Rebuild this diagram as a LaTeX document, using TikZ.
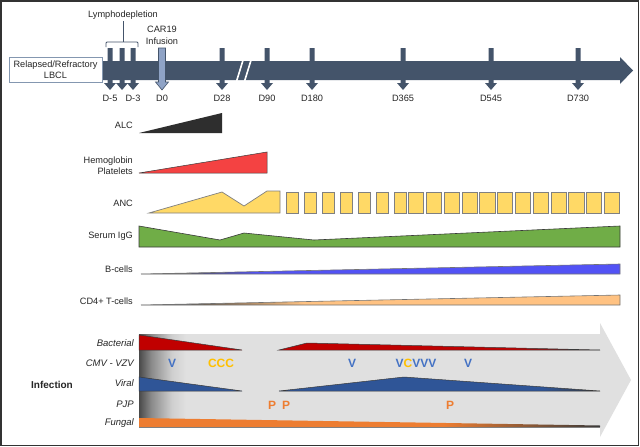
\documentclass[tikz,border=0pt]{standalone}
\usepackage{fontspec}
\setmainfont{Liberation Sans}
\definecolor{tl}{HTML}{44546A}
\definecolor{tlL}{HTML}{8FA3C6}
\definecolor{boxe}{HTML}{8497B0}
\definecolor{alc}{HTML}{2E2E2E}
\definecolor{hgb}{HTML}{F44242}
\definecolor{anc}{HTML}{FFD966}
\definecolor{igg}{HTML}{70AD47}
\definecolor{bcl}{HTML}{5252F5}
\definecolor{cdf}{HTML}{FFC282}
\definecolor{arr}{HTML}{E0E0E0}
\definecolor{bac}{HTML}{C00000}
\definecolor{vir}{HTML}{2F5597}
\definecolor{fun}{HTML}{ED7D31}
\definecolor{vl}{HTML}{4472C4}
\definecolor{cl}{HTML}{FFC000}
\definecolor{dk}{HTML}{3A3A3A}
\definecolor{g1}{HTML}{4A4A4A}
\definecolor{g2}{HTML}{8A8A8A}
\definecolor{g3}{HTML}{CFCFCF}
\pgfdeclarehorizontalshading{bcshade}{100bp}{color(0bp)=(dk); color(28bp)=(dk); color(37bp)=(bcl); color(100bp)=(bcl)}
\pgfdeclarehorizontalshading{cdshade}{100bp}{color(0bp)=(dk); color(28bp)=(dk); color(42bp)=(cdf); color(100bp)=(cdf)}
\pgfdeclarehorizontalshading{bacshade}{100bp}{color(0bp)=(bac); color(62bp)=(bac); color(75bp)=(dk); color(100bp)=(dk)}
\pgfdeclarehorizontalshading{virshade}{100bp}{color(0bp)=(vir); color(66bp)=(vir); color(75bp)=(dk); color(100bp)=(dk)}
\pgfdeclarehorizontalshading{funshade}{100bp}{color(0bp)=(fun); color(58bp)=(fun); color(75bp)=(dk); color(100bp)=(dk)}
\pgfdeclarehorizontalshading{leftshade}{100bp}{color(0bp)=(g1); color(25bp)=(g1); color(38bp)=(g2); color(60bp)=(g3); color(75bp)=(arr); color(100bp)=(arr)}
\newcommand\dayarrow[1]{\fill[tl] (#1-2.5,48) -- (#1+2.5,48) -- (#1+2.5,83) -- (#1+6,83) -- (#1,90) -- (#1-6,83) -- (#1-2.5,83) -- cycle;}
\begin{document}
\begin{tikzpicture}[x=1pt,y=-1pt,
  lbl/.style={font=\fontsize{9.2}{11}\selectfont, text=black!85, inner sep=0pt},
  rowlbl/.style={lbl, anchor=east},
  inflbl/.style={font=\fontsize{9.5}{11}\selectfont\itshape, text=black!85, inner sep=0pt, anchor=east},
  daylbl/.style={lbl},
  edge/.style={draw=dk, line width=0.5pt},
  ancbox/.style={fill=anc, draw=black!50, line width=0.7pt},
  vlet/.style={font=\fontsize{12}{12}\selectfont\bfseries, text=vl, inner sep=0pt},
  clet/.style={font=\fontsize{12}{12}\selectfont\bfseries, text=cl, inner sep=0pt},
  plet/.style={font=\fontsize{12}{12}\selectfont\bfseries, text=fun, inner sep=0pt}]
\useasboundingbox (0,0) rectangle (640,447);
\fill[white] (0,0) rectangle (640,447);
\draw[line width=1.5pt, black!80] (0.75,0.75) rectangle (638.5,445.5);

% timeline
\fill[tl] (102,61) -- (620,61) -- (620,57) -- (633,70.5) -- (620,84) -- (620,80) -- (102,80) -- cycle;
\node[draw=boxe, fill=white, line width=0.6pt, minimum width=93pt, minimum height=25pt, inner sep=0pt, align=center,
  font=\fontsize{9.2}{10.5}\selectfont, text=black!85] (rr) at (55.5,69.5) {Relapsed/Refractory\\LBCL};
\foreach \xx in {110,122,133,222,267,312,403,491,578} {\dayarrow{\xx}}
\draw[tl, fill=tlL, line width=0.6pt] (158.5,48) -- (165.5,48) -- (165.5,82) -- (168.5,82) -- (162,90) -- (155.5,82) -- (158.5,82) -- cycle;
\draw[white, line width=1.6pt] (236,83) -- (244,57);
\draw[white, line width=1.6pt] (244,83) -- (252,57);

\node[lbl] (lymph) at (123,15) {Lymphodepletion};
\coordinate (brk) at (123,42);
\draw[tl, line width=0.8pt, rounded corners=1pt] (106,47) -- (106,42) -- (138,42) -- (138,47);
\draw[tl, line width=0.8pt] (lymph.south |- 0,21) -- (brk);
\node[lbl, align=center, font=\fontsize{9.2}{12}\selectfont] (car) at (162,35) {CAR19\\Infusion};

\node[daylbl] (dm5) at (110,98) {D-5};
\node[daylbl] (dm3) at (133,98) {D-3};
\node[daylbl] (d0) at (162,98) {D0};
\node[daylbl] (d28) at (222,98) {D28};
\node[daylbl] (d90) at (267,98) {D90};
\node[daylbl] (d180) at (312,98) {D180};
\node[daylbl] (d365) at (403,98) {D365};
\node[daylbl] (d545) at (491,98) {D545};
\node[daylbl] (d730) at (578,98) {D730};

% lab rows
\node[rowlbl] (alc) at (133,125) {ALC};
\fill[alc] (139,133) -- (222,113) -- (222,133) -- cycle;

\node[rowlbl, align=right, font=\fontsize{9.2}{11.5}\selectfont] (hgb) at (133,165.5) {Hemoglobin\\Platelets};
\draw[fill=hgb, draw=dk, line width=0.5pt] (139,173) -- (267,152) -- (267,173) -- cycle;

\node[rowlbl] (ancl) at (133,203) {ANC};
\draw[ancbox] (149,213) -- (222,192) -- (244,206) -- (267,191) -- (280,191) -- (280,213) -- cycle;
\foreach \i in {0,...,6} {\draw[ancbox] (286+18*\i,192) rectangle ++(12,21);}
\foreach \i in {0,...,11} {\draw[ancbox] (408.5+17.8*\i,192) rectangle ++(15.3,21);}

\node[rowlbl] (igg) at (133,236) {Serum IgG};
\draw[fill=igg, draw=dk, line width=0.6pt] (139,226) -- (220,240) -- (244,233) -- (314,240) -- (620,226) -- (620,247) -- (139,247) -- cycle;

\node[rowlbl] (bc) at (133,269) {B-cells};
\shade[shading=bcshade] (141,274) -- (620,264) -- (620,274) -- cycle;
\draw[black!55, line width=0.6pt] (141,274) -- (620,264) -- (620,274) -- cycle;

\node[rowlbl] (cd4) at (133,301) {CD4+ T-cells};
\shade[shading=cdshade] (141,305) -- (620,295) -- (620,305) -- cycle;
\draw[black!55, line width=0.6pt] (141,305) -- (620,295) -- (620,305) -- cycle;

% infection
\fill[arr] (139,334) -- (600,334) -- (600,323) -- (631,380) -- (600,437) -- (600,427) -- (139,427) -- cycle;
\shade[shading=leftshade] (139,334) rectangle (186,427);

\draw[edge, fill=bac] (139,335) -- (242,350) -- (139,350) -- cycle;
\shade[shading=bacshade] (279,350) -- (307,343) -- (600,350) -- cycle;
\draw[edge] (279,350) -- (307,343) -- (600,350) -- cycle;

\draw[edge, fill=vir] (139,377) -- (242,391) -- (139,391) -- cycle;
\shade[shading=virshade] (279,391) -- (404,377) -- (600,391) -- cycle;
\draw[edge] (279,391) -- (404,377) -- (600,391) -- cycle;

\shade[shading=funshade] (139,418) -- (600,425.5) -- (600,427) -- (139,427) -- cycle;
\draw[black!50, line width=1.2pt] (139,427.5) -- (600,427.5);

\node[vlet] (v1) at (172,363) {V};
\node[clet] (c1) at (221,363) {CCC};
\node[vlet] (v2) at (352,363) {V};
\node[inner sep=0pt, font=\fontsize{12}{12}\selectfont\bfseries] (vc) at (416,363) {\textcolor{vl}{V}\textcolor{cl}{C}\textcolor{vl}{VVV}};
\node[vlet] (v3) at (468,363) {V};
\node[plet] (p1) at (272,405) {P};
\node[plet] (p2) at (286,405) {P};
\node[plet] (p3) at (450,405) {P};

\node[inflbl] (bacl) at (134,343) {Bacterial};
\node[inflbl] (cmv) at (134,363) {CMV - VZV};
\node[inflbl] (virl) at (134,383) {Viral};
\node[inflbl] (pjp) at (134,404) {PJP};
\node[inflbl] (funl) at (134,423) {Fungal};
\node[font=\fontsize{10}{12}\selectfont\bfseries, text=black!85, inner sep=0pt] (inf) at (52,385) {Infection};
\end{tikzpicture}
\end{document}
